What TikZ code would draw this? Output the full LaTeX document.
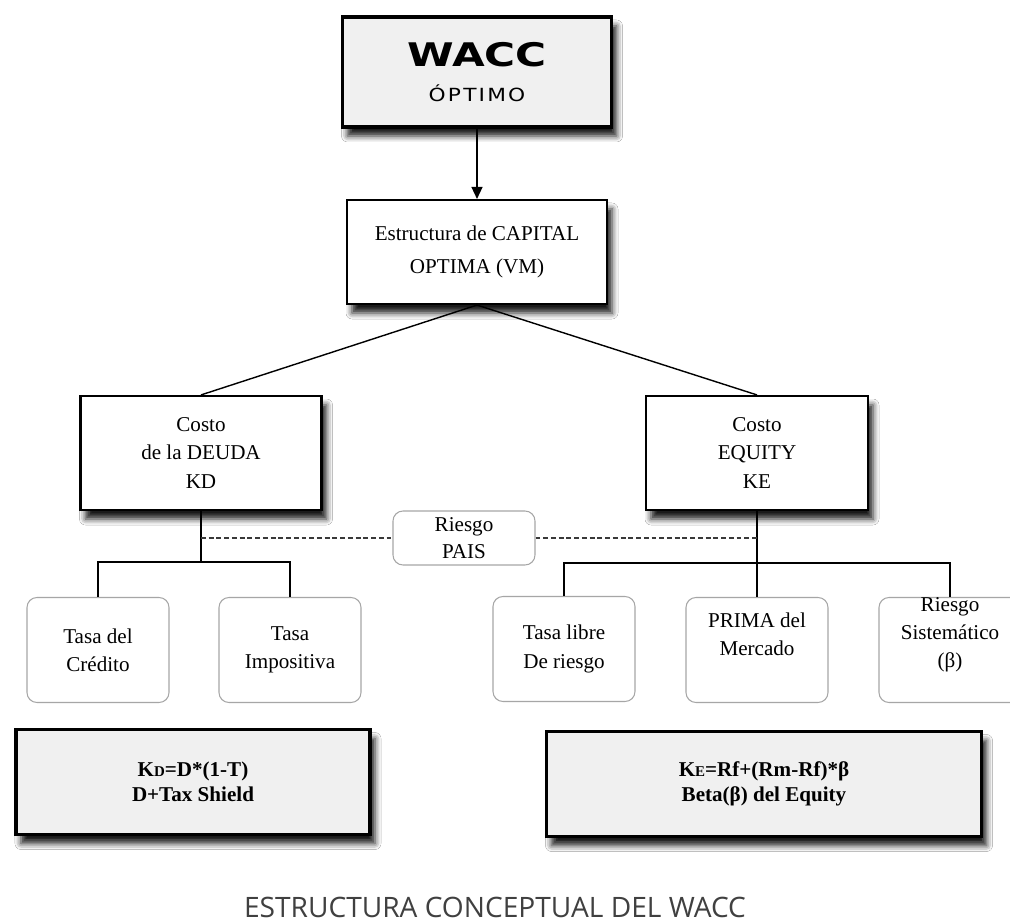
\documentclass[tikz,border=0pt]{standalone}
\usepackage{fontspec}
\setmainfont{Liberation Serif}
\newfontfamily\captionfont{Open Sans}
\newfontfamily\waccfont[FakeStretch=1.3]{DejaVu Sans}
\newfontfamily\optimofont[FakeStretch=1.2,LetterSpace=12]{DejaVu Sans}
\usetikzlibrary{arrows.meta,shadows.blur}

\tikzset{
  mainbox/.style={draw=black, line width=1.2pt, fill=white, inner sep=0pt, align=center,
    font=\fontsize{12}{16}\selectfont,
    blur shadow={shadow xshift=1mm, shadow yshift=-1.8mm, shadow blur radius=1.2mm,
      shadow opacity=90}},
  formbox/.style={mainbox, line width=2pt, fill=gray!12, minimum height=21mm,
    font=\bfseries\fontsize{12}{14.5}\selectfont},
  leafbox/.style={draw=gray!70, line width=0.6pt, rounded corners=2mm, fill=white,
    inner sep=0pt, align=center, minimum width=28.4mm, minimum height=21mm,
    font=\fontsize{12}{16}\selectfont},
  leaftext/.style={align=center, font=\fontsize{12}{16}\selectfont},
  link/.style={line width=0.8pt},
  dashlink/.style={line width=1.5pt, gray!45!black, dash pattern=on 2.8pt off 1.6pt}
}

\begin{document}
\begin{tikzpicture}[x=0.2mm, y=-0.2mm]
  \path[use as bounding box, clip] (0,0) rectangle (1010,924);
  \fill[white] (0,0) rectangle (1010,924);

  % Top of the tree
  \node[mainbox, line width=2pt, fill=gray!12, minimum width=53.8mm, minimum height=22mm,
        font=\waccfont\bfseries\fontsize{18.5}{20}\selectfont] (wacc) at (477,72)
        {WACC\\{\optimofont\mdseries\fontsize{10.3}{11}\selectfont ÓPTIMO}};
  \node[mainbox, minimum width=52mm, minimum height=20.8mm,
        font=\fontsize{12}{18.5}\selectfont] (capital) at (477,252)
        {Estructura de CAPITAL\\OPTIMA (VM)};

  % Cost of debt and cost of equity
  \node[mainbox, minimum width=48.2mm, minimum height=22.8mm] (deuda) at (201,453)
        {Costo\\de la DEUDA\\KD};
  \node[mainbox, minimum width=44.4mm, minimum height=22.8mm] (equity) at (757,453)
        {Costo\\EQUITY\\KE};

  \node[leafbox, minimum height=10.8mm, font=\fontsize{12}{15.3}\selectfont] (pais)
        at (464,538) {Riesgo\\PAIS};

  % Components
  \node[leafbox] (credito) at (98,650) {Tasa del\\Crédito};
  \node[leafbox] (impositiva) at (290,650) {Tasa\\Impositiva};
  \node[leafbox] (libre) at (564,649) {Tasa libre\\De riesgo};
  \node[leafbox, label={[leaftext, yshift=3.2mm]center:PRIMA del\\Mercado}] (prima)
        at (757,650) {};
  \node[leafbox, label={[leaftext, yshift=3mm]center:Riesgo\\Sistemático\\(β)}] (sistematico)
        at (950,650) {};

  % Formulas
  \node[formbox, minimum width=70.8mm] (kdform) at (193,782)
        {K{\fontsize{8.5}{10}\selectfont D}=D*(1-T)\\D+Tax Shield};
  \node[formbox, minimum width=87mm] (keform) at (764,784)
        {K{\fontsize{8.5}{10}\selectfont E}=Rf+(Rm-Rf)*β\\Beta(β) del Equity};

  \node[font=\captionfont\fontsize{16}{18}\selectfont, text=black!75] (caption)
        at (495,907) {ESTRUCTURA CONCEPTUAL DEL WACC};

  % Connectors
  \coordinate (jd) at (201,562);
  \coordinate (je) at (757,563);
  \draw[link, -{Triangle[length=2.4mm, width=2.2mm]}] (wacc) -- (capital);
  \draw[link] (deuda.north) -- (capital.south) -- (equity.north);
  \draw[link] (deuda.south) -- (jd);
  \draw[link] (credito.north) |- (jd) -| (impositiva.north);
  \draw[link] (equity.south) -- (prima.north);
  \draw[link] (libre.north) |- (je) -| (sistematico.north);

  % Country risk
  \draw[dashlink] (deuda.south |- pais.west) -- (pais.west);
  \draw[dashlink] (pais.east) -- (equity.south |- pais.east);
\end{tikzpicture}
\end{document}
